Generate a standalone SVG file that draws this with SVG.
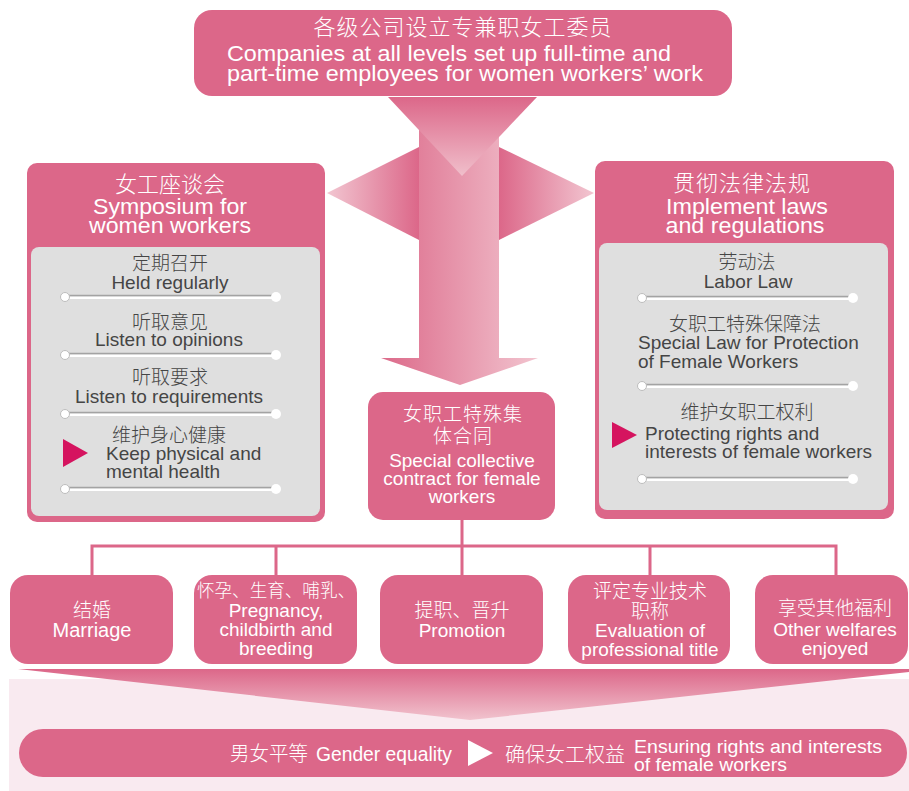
<svg xmlns="http://www.w3.org/2000/svg" width="909" height="791" viewBox="0 0 909 791">
<defs>
<style>
.pk{fill:#dc6789}
.gy{fill:#dfdfdf}
.t{font-family:"Liberation Sans","Noto Sans CJK SC",sans-serif;text-anchor:middle}
.w{fill:#ffffff}
.d{fill:#454545}
.s{text-anchor:start}
.cj{font-family:"Noto Sans CJK SC",sans-serif;font-weight:300}
.conn{fill:none;stroke:#dc6789;stroke-width:3}
.mk{fill:#d5145f}
</style>
<linearGradient id="gTop" x1="0" y1="0" x2="0" y2="1"><stop offset="0" stop-color="#dc6789"/><stop offset="1" stop-color="#f0bfcb"/></linearGradient>
<linearGradient id="gShaft" gradientUnits="userSpaceOnUse" x1="381" y1="0" x2="538" y2="0"><stop offset="0" stop-color="#dc6a8a"/><stop offset="1" stop-color="#f2c4cf"/></linearGradient>
<linearGradient id="gL" gradientUnits="userSpaceOnUse" x1="327" y1="0" x2="419" y2="0"><stop offset="0" stop-color="#f2c6d1"/><stop offset="1" stop-color="#dc6789"/></linearGradient>
<linearGradient id="gR" gradientUnits="userSpaceOnUse" x1="499" y1="0" x2="594" y2="0"><stop offset="0" stop-color="#dc6789"/><stop offset="1" stop-color="#f2c6d1"/></linearGradient>
<linearGradient id="gBot" gradientUnits="userSpaceOnUse" x1="0" y1="669" x2="0" y2="720"><stop offset="0" stop-color="#dc6789"/><stop offset="1" stop-color="#f1c3ce"/></linearGradient>
<g id="sepL">
<line x1="0" y1="-1.2" x2="212" y2="-1.2" stroke="#a3a3a3" stroke-width="2"/>
<line x1="0" y1="0.8" x2="212" y2="0.8" stroke="#ffffff" stroke-width="2.6"/>
<circle cx="3" cy="0" r="4.5" fill="#ffffff" stroke="#bdbdbd" stroke-width="1"/>
<circle cx="214" cy="0" r="5" fill="#ffffff"/>
</g>
</defs>

<rect x="0" y="0" width="909" height="791" fill="#ffffff"/>

<g id="arrows">
<polygon points="327,193 419,147 419,240" fill="url(#gL)"/>
<polygon points="594,193 499,147 499,240" fill="url(#gR)"/>
<polygon points="419,130 499,130 499,358 538,358 460,385 381,358 419,358" fill="url(#gShaft)"/>
<polygon points="388,97 537,97 462,176" fill="url(#gTop)"/>
</g>

<g id="top">
<rect class="pk" x="194" y="10" width="538" height="86" rx="18"/>
<text class="t w cj" x="463" y="35" font-size="22" letter-spacing="1">各级公司设立专兼职女工委员</text>
<text class="t w s" x="227" y="61" font-size="22" textLength="444" lengthAdjust="spacingAndGlyphs">Companies at all levels set up full-time and</text>
<text class="t w s" x="227" y="81" font-size="22" textLength="476" lengthAdjust="spacingAndGlyphs">part-time employees for women workers’ work</text>
</g>

<g id="left">
<rect class="pk" x="27" y="163" width="298" height="359" rx="10"/>
<rect class="gy" x="31" y="247" width="289" height="269" rx="8"/>
<text class="t w cj" x="170" y="192" font-size="22">女工座谈会</text>
<text class="t w" x="170" y="214" font-size="22" textLength="154" lengthAdjust="spacingAndGlyphs">Symposium for</text>
<text class="t w" x="170" y="233" font-size="22" textLength="162" lengthAdjust="spacingAndGlyphs">women workers</text>
<text class="t d cj" x="170" y="270" font-size="19">定期召开</text>
<text class="t d" x="170" y="289" font-size="19">Held regularly</text>
<use href="#sepL" x="62" y="297"/>
<text class="t d cj" x="170" y="329" font-size="19">听取意见</text>
<text class="t d" x="169" y="346" font-size="19">Listen to opinions</text>
<use href="#sepL" x="62" y="355"/>
<text class="t d cj" x="170" y="384" font-size="19">听取要求</text>
<text class="t d" x="169" y="403" font-size="19">Listen to requirements</text>
<use href="#sepL" x="62" y="414"/>
<text class="t d cj" x="169" y="442" font-size="19">维护身心健康</text>
<polygon class="mk" points="63,439 88,453 63,467"/>
<text class="t d s" x="106" y="460" font-size="19">Keep physical and</text>
<text class="t d s" x="106" y="478" font-size="19">mental health</text>
<use href="#sepL" x="62" y="489"/>
</g>

<g id="right">
<rect class="pk" x="595" y="161" width="299" height="358" rx="10"/>
<rect class="gy" x="599" y="243" width="289" height="267" rx="8"/>
<text class="t w cj" x="742" y="191" font-size="22" letter-spacing="1">贯彻法律法规</text>
<text class="t w" x="747" y="214" font-size="22" textLength="162" lengthAdjust="spacingAndGlyphs">Implement laws</text>
<text class="t w" x="745" y="233" font-size="22" textLength="159" lengthAdjust="spacingAndGlyphs">and regulations</text>
<text class="t d cj" x="747" y="269" font-size="19">劳动法</text>
<text class="t d" x="748" y="288" font-size="19">Labor Law</text>
<use href="#sepL" x="639" y="298"/>
<text class="t d cj" x="745" y="331" font-size="19">女职工特殊保障法</text>
<text class="t d s" x="638" y="349" font-size="19">Special Law for Protection</text>
<text class="t d s" x="638" y="368" font-size="19">of Female Workers</text>
<use href="#sepL" x="639" y="386"/>
<text class="t d cj" x="747" y="419" font-size="19">维护女职工权利</text>
<polygon class="mk" points="612,422 637,435 612,448"/>
<text class="t d s" x="645" y="440" font-size="19">Protecting rights and</text>
<text class="t d s" x="645" y="458" font-size="19">interests of female workers</text>
<use href="#sepL" x="639" y="479"/>
</g>

<g id="center">
<rect class="pk" x="368" y="392" width="187" height="128" rx="15"/>
<text class="t w cj" x="463" y="421" font-size="19" letter-spacing="1">女职工特殊集</text>
<text class="t w cj" x="463" y="443" font-size="19" letter-spacing="1">体合同</text>
<text class="t w" x="462" y="467" font-size="19">Special collective</text>
<text class="t w" x="462" y="485" font-size="19">contract for female</text>
<text class="t w" x="462" y="503" font-size="19">workers</text>
</g>

<g id="connectors">
<path class="conn" d="M462,520 V546 M92,577 V546 H836 V577 M276,546 V577 M462,546 V577 M650,546 V577"/>
</g>

<g id="b1">
<rect class="pk" x="10" y="575" width="163" height="89" rx="18"/>
<text class="t w cj" x="92" y="617" font-size="19">结婚</text>
<text class="t w" x="92" y="637" font-size="20">Marriage</text>
</g>
<g id="b2">
<rect class="pk" x="194" y="575" width="163" height="89" rx="18"/>
<text class="t w cj" x="276" y="597" font-size="18" textLength="158" lengthAdjust="spacingAndGlyphs">怀孕、生育、哺乳、</text>
<text class="t w" x="276" y="617" font-size="19">Pregnancy,</text>
<text class="t w" x="276" y="636" font-size="19">childbirth and</text>
<text class="t w" x="276" y="655" font-size="19">breeding</text>
</g>
<g id="b3">
<rect class="pk" x="380" y="575" width="163" height="89" rx="18"/>
<text class="t w cj" x="462" y="617" font-size="19">提职、晋升</text>
<text class="t w" x="462" y="637" font-size="19">Promotion</text>
</g>
<g id="b4">
<rect class="pk" x="568" y="575" width="162" height="89" rx="18"/>
<text class="t w cj" x="650" y="598" font-size="19">评定专业技术</text>
<text class="t w cj" x="650" y="618" font-size="19">职称</text>
<text class="t w" x="650" y="637" font-size="19">Evaluation of</text>
<text class="t w" x="650" y="656" font-size="19">professional title</text>
</g>
<g id="b5">
<rect class="pk" x="755" y="575" width="153" height="89" rx="18"/>
<text class="t w cj" x="835" y="615" font-size="19">享受其他福利</text>
<text class="t w" x="835" y="636" font-size="19">Other welfares</text>
<text class="t w" x="835" y="655" font-size="19">enjoyed</text>
</g>

<g id="bottom">
<rect x="9" y="679" width="900" height="112" fill="#f9eaf0"/>
<polygon points="18,669 909,669 909,672 470,720" fill="url(#gBot)"/>
<rect class="pk" x="19" y="729" width="888" height="48" rx="24"/>
<text class="t w s cj" x="230" y="761" font-size="20" textLength="78" lengthAdjust="spacingAndGlyphs">男女平等</text>
<text class="t w s" x="316" y="761" font-size="20" textLength="136" lengthAdjust="spacingAndGlyphs">Gender equality</text>
<polygon fill="#ffffff" points="468,740 493,753 468,766"/>
<text class="t w s cj" x="505" y="762" font-size="20" textLength="120" lengthAdjust="spacingAndGlyphs">确保女工权益</text>
<text class="t w s" x="634" y="753" font-size="18" textLength="248" lengthAdjust="spacingAndGlyphs">Ensuring rights and interests</text>
<text class="t w s" x="634" y="771" font-size="18" textLength="153" lengthAdjust="spacingAndGlyphs">of female workers</text>
</g>
</svg>
